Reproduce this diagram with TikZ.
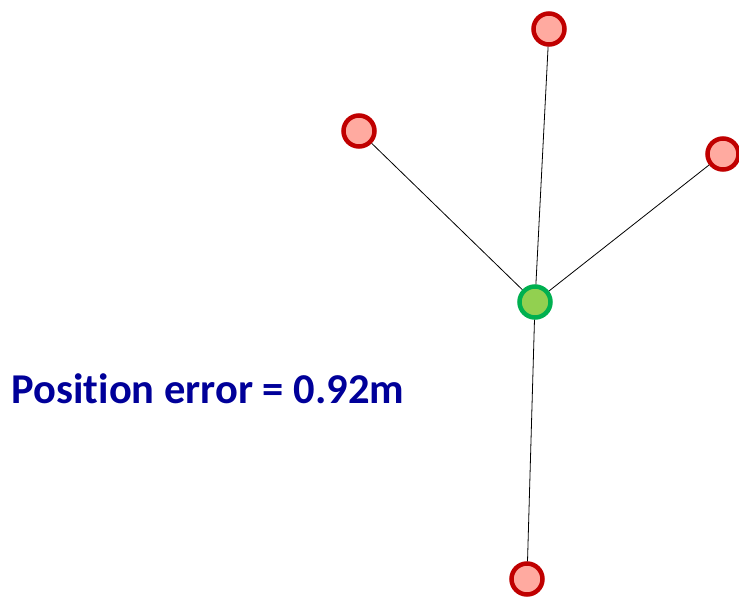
\documentclass[tikz,border=0pt]{standalone}
\usepackage{fontspec}
\usepackage{tikz}
\usetikzlibrary{positioning}
\newfontfamily\labelfont[Ligatures=NoCommon]{Carlito}
\definecolor{ringred}{RGB}{192,0,0}
\definecolor{fillred}{RGB}{255,170,160}
\definecolor{ringgreen}{RGB}{0,176,80}
\definecolor{fillgreen}{RGB}{146,208,80}
\definecolor{textblue}{RGB}{0,0,153}
\tikzstyle{beacon}=[draw=ringred,fill=fillred,circle,line width=4.5pt,minimum size=31pt,inner sep=0pt]
\tikzstyle{target}=[draw=ringgreen,fill=fillgreen,circle,line width=4.5pt,minimum size=31pt,inner sep=0pt]
\begin{document}
\begin{tikzpicture}[x=1pt,y=-1pt]
\tikzstyle{link}=[black,line width=0.8pt]
\useasboundingbox (0,0) rectangle (739,597);
    \node [target] (t) at (535,302) {};
    \node [beacon] (b1) at (549,29) {};
    \node [beacon] (b2) at (359,131) {};
    \node [beacon] (b3) at (723,154) {};
    \node [beacon] (b4) at (527,579) {};
    \draw [link] (t) -- (b1);
    \draw [link] (t) -- (b2);
    \draw [link] (t) -- (b3);
    \draw [link] (t) -- (b4);
    \node [text=textblue,font=\labelfont\bfseries\fontsize{42.5}{46}\selectfont] (err) at (208,389) {Position error = 0.92m};
\end{tikzpicture}
\end{document}
